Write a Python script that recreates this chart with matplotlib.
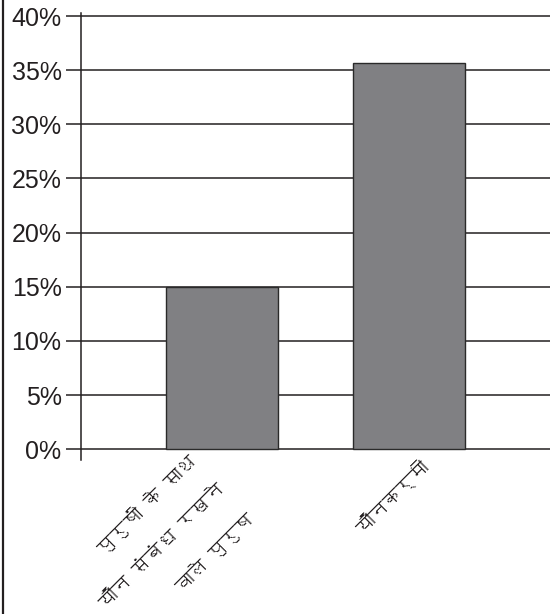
import matplotlib
matplotlib.use("Agg")
import matplotlib.pyplot as plt
from matplotlib import font_manager
from matplotlib.ft2font import FT2Font
from matplotlib.lines import Line2D
from matplotlib.transforms import ScaledTranslation

# data
categories = ["पुरुषों के साथ\nयौन संबंध रखने\nवाले पुरुष", "यौनकर्मी"]
values = [15.0, 35.7]
yticks = [0, 5, 10, 15, 20, 25, 30, 35, 40]
ytick_labels = ["0%", "5%", "10%", "15%", "20%", "25%", "30%", "35%", "40%"]

# find a family that can draw Devanagari, if there is one
deva = []
for f in font_manager.fontManager.ttflist:
    try:
        if 0x0915 in FT2Font(f.fname).get_charmap() and f.name not in deva:
            deva.append(f.name)
    except Exception:
        pass
label_fonts = deva + ["Liberation Sans", "DejaVu Sans"]

plt.rcParams["font.family"] = ["Liberation Sans", "DejaVu Sans"]

fig = plt.figure(figsize=(5.55, 6.14), dpi=100)
ax = fig.add_axes([81 / 555, 154 / 614, 469 / 555, 447 / 614])

x = list(range(len(categories)))
ax.bar(x, values, width=0.6, color="#808083", edgecolor="#2a2a2a", linewidth=1.0, zorder=3)

ax.set_xlim(-0.757, 1.757)
ax.set_ylim(-1.0, 40.28)
ax.set_yticks(yticks)
ax.set_yticklabels(ytick_labels, fontsize=18, color="#231f20")
ax.tick_params(axis="y", length=11, width=1.1, color="#231f20", pad=3)
ax.grid(axis="y", color="#231f20", linewidth=1.1, zorder=1)

for s in ["top", "right", "bottom"]:
    ax.spines[s].set_visible(False)
ax.spines["left"].set_color("#231f20")
ax.spines["left"].set_linewidth(1.1)

ax.set_xticks(x)
ax.set_xticklabels(categories, rotation=45, ha="right", va="top",
                   rotation_mode="anchor", fontsize=13.5, family=label_fonts,
                   linespacing=2.5, color="#231f20")
ax.tick_params(axis="x", length=0, pad=4)
offsets = [(-0.36, 0.15), (0.10, 0.08)]
for lab, (dx, dy) in zip(ax.get_xticklabels(), offsets):
    lab.set_transform(lab.get_transform() + ScaledTranslation(dx, dy, fig.dpi_scale_trans))

# frame line on the left edge of the picture
fig.add_artist(Line2D([0.006, 0.006], [0, 1], transform=fig.transFigure,
                      color="#231f20", linewidth=1.6))

fig.savefig("out.png", dpi=100)
